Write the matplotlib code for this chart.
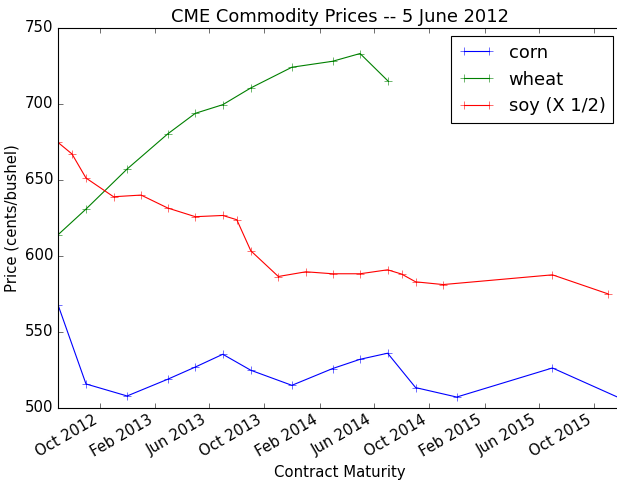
import datetime as dt
import matplotlib
matplotlib.use("Agg")
import matplotlib.pyplot as plt
import matplotlib.dates as mdates

# contract months (first day of month) and settlement prices, cents/bushel
corn_months = ["2012-07", "2012-09", "2012-12", "2013-03", "2013-05", "2013-07",
               "2013-09", "2013-12", "2014-03", "2014-05", "2014-07", "2014-09",
               "2014-12", "2015-07", "2015-12"]
corn_prices = [567.8, 515.8, 507.9, 518.9, 526.9, 535.3, 524.8, 514.9, 525.9,
               532.0, 536.0, 513.4, 507.2, 526.3, 506.0]

wheat_months = ["2012-07", "2012-09", "2012-12", "2013-03", "2013-05", "2013-07",
                "2013-09", "2013-12", "2014-03", "2014-05", "2014-07"]
wheat_prices = [613.8, 630.7, 657.0, 680.1, 693.6, 699.3, 710.3, 723.9, 727.8,
                732.9, 715.1]

soy_months = ["2012-07", "2012-08", "2012-09", "2012-11", "2013-01", "2013-03",
              "2013-05", "2013-07", "2013-08", "2013-09", "2013-11", "2014-01",
              "2014-03", "2014-05", "2014-07", "2014-08", "2014-09", "2014-11",
              "2015-07", "2015-11"]
soy_prices = [1349.0, 1333.8, 1302.2, 1277.6, 1279.8, 1262.8, 1251.4, 1253.0,
              1247.4, 1206.6, 1172.8, 1179.0, 1176.4, 1176.4, 1181.6, 1176.0,
              1165.8, 1162.2, 1175.0, 1150.0]


def to_dates(months):
    return [dt.datetime.strptime(m, "%Y-%m") for m in months]


plt.style.use("classic")
plt.rcParams["font.size"] = 13.4
plt.rcParams["xtick.major.size"] = 4.5
plt.rcParams["ytick.major.size"] = 4.5

fig = plt.figure(figsize=(617 / 80, 480 / 80), dpi=80)
ax = fig.add_axes([0.094, 0.15, 0.9133, 0.7927])

ax.plot(to_dates(corn_months), corn_prices, "b-+", label="corn", ms=7)
ax.plot(to_dates(wheat_months), wheat_prices, "g-+", label="wheat", ms=7)
ax.plot(to_dates(soy_months), [p / 2 for p in soy_prices], "r-+",
        label="soy (X 1/2)", ms=7)

ax.set_xlim(dt.datetime(2012, 7, 1), dt.datetime(2015, 12, 1))
ax.set_ylim(500, 750)
ax.xaxis.set_major_locator(mdates.MonthLocator(bymonth=[2, 6, 10]))
ax.xaxis.set_major_formatter(mdates.DateFormatter("%b %Y"))
for lbl in ax.get_xticklabels():
    lbl.set_rotation(30)
    lbl.set_ha("right")

ax.set_title("CME Commodity Prices -- 5 June 2012", fontsize=16.1)
ax.set_xlabel("Contract Maturity")
ax.set_ylabel("Price (cents/bushel)")
ax.legend(loc="upper right", fontsize=16.1)

fig.savefig("out.png", dpi=80)
